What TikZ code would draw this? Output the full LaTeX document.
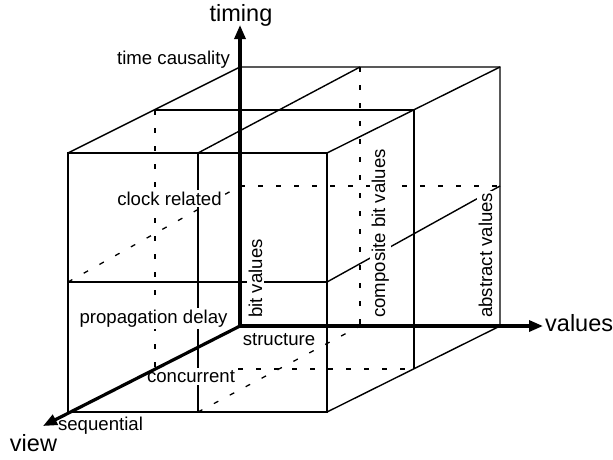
\documentclass[tikz,border=0pt]{standalone}
\usepackage{fontspec}
\setmainfont{Liberation Sans}
\usetikzlibrary{arrows.meta}
\begin{document}
\begin{tikzpicture}[x=1pt,y=-1pt,
  edge/.style={line width=1.4pt, black},
  hidden/.style={line width=1.3pt, black, dash pattern=on 5pt off 13pt},
  axis/.style={line width=3.2pt, -{Triangle[length=14pt,width=11pt]}},
  lbl/.style={fill=white, inner sep=2pt, font=\fontsize{18.6}{20}\selectfont},
  big/.style={inner sep=0pt, font=\fontsize{23.5}{26}\selectfont}]
\useasboundingbox (0,0) rectangle (613,459);

% corners
\coordinate (O)   at (240,326);
\coordinate (BTL) at (240,67);
\coordinate (BTR) at (500,67);
\coordinate (BBR) at (500,326);
\coordinate (FTL) at (68,153);
\coordinate (FTR) at (327,153);
\coordinate (FBR) at (327,412);
\coordinate (FBL) at (68,412);
\coordinate (MTL) at (155,110);
\coordinate (MTR) at (414,110);
\coordinate (MBR) at (414,369);
\coordinate (MBL) at (155,369);
\coordinate (FVT) at (198,153);
\coordinate (FVB) at (198,412);
\coordinate (BVT) at (360,67);
\coordinate (BVB) at (360,326);
\coordinate (FHL) at (68,282);
\coordinate (FHR) at (327,282);
\coordinate (BHL) at (240,186);
\coordinate (BHR) at (500,186);
\coordinate (T) at (240,25);
\coordinate (V) at (543,326);
\coordinate (W) at (43,426);

% hidden lines
\draw[hidden] (MTL) -- (MBL) -- (MBR);
\draw[hidden] (BVT) -- (BVB);
\draw[hidden] (BHL) -- (BHR);
\draw[hidden] (FHL) -- (BHL);
\draw[hidden] (FVB) -- (BVB);

% visible edges
\draw[edge] (FTL) -- (FTR) -- (FBR) -- (FBL) -- cycle;
\draw[edge] (FVT) -- (FVB);
\draw[edge] (FHL) -- (FHR);
\draw[edge] (FTL) -- (BTL) -- (BTR) -- (BBR);
\draw[edge] (FTR) -- (BTR);
\draw[edge] (FBR) -- (BBR);
\draw[edge] (FVT) -- (BVT);
\draw[edge] (MTL) -- (MTR) -- (MBR);
\draw[edge] (FHR) -- (BHR);

% labels
\node[lbl, anchor=base] (tc) at (173.5,64) {time causality};
\node[lbl, anchor=base] (cr) at (169.5,205) {clock related};
\node[lbl, anchor=base] (pd) at (153.5,323) {propagation delay};
\node[lbl, anchor=base] (st) at (279,345) {structure};
\node[lbl, anchor=base] (cc) at (191,382.5) {concurrent};
\node[lbl, anchor=base] (sq) at (100.5,430) {sequential};
\node[lbl, anchor=base west, rotate=90] (bv) at (262,320) {bit values};
\node[lbl, anchor=base west, rotate=90] (cb) at (385,320) {composite bit values};
\node[lbl, anchor=base west, rotate=90] (av) at (492,320) {abstract values};

% axes
\draw[axis] (O) -- (T);
\draw[axis] (O) -- (V);
\draw[axis] (O) -- (W);

\node[big, anchor=base] (tm) at (241,21) {timing};
\node[big, anchor=base west] (vl) at (545,331.5) {values};
\node[big, anchor=base] (vw) at (33.5,451.5) {view};
\end{tikzpicture}
\end{document}
